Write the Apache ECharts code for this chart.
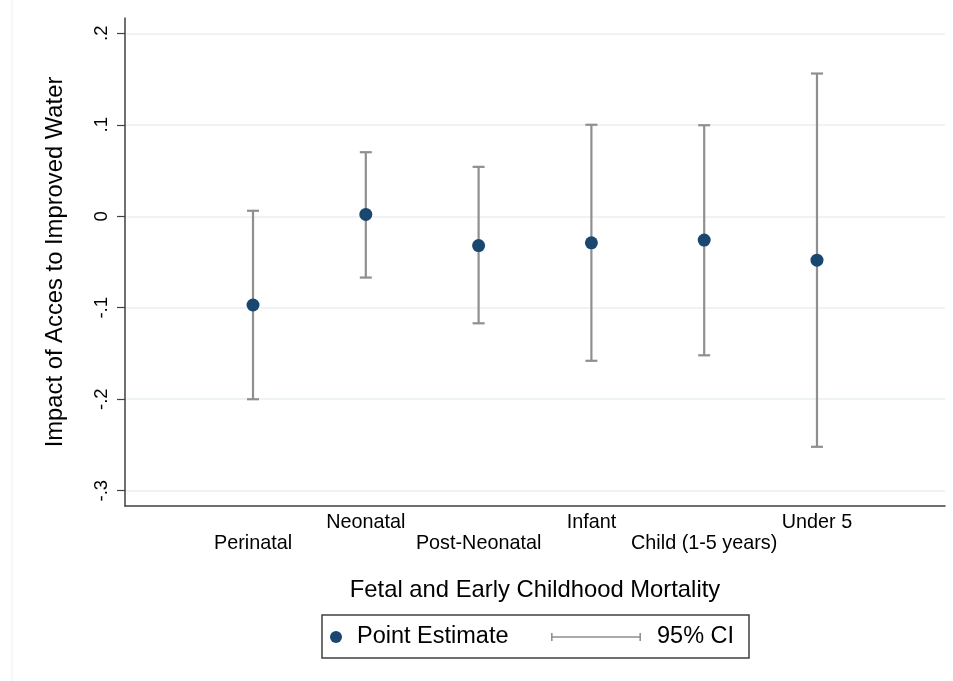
<!DOCTYPE html>
<html>
<head>
<meta charset="utf-8">
<title>Impact of Access to Improved Water on Mortality</title>
<script src="https://cdn.jsdelivr.net/npm/echarts@6/dist/echarts.min.js"></script>
<style>
  html, body { margin: 0; padding: 0; background: #ffffff; }
  #chart { width: 953px; height: 681px; }
</style>
</head>
<body>
<div id="chart"></div>
<script>
// Mortality outcomes (plotted at positions 1..6)
const categories = ['Perinatal', 'Neonatal', 'Post-Neonatal', 'Infant', 'Child (1-5 years)', 'Under 5'];
const positions = [1, 2, 3, 4, 5, 6];

// Point estimates and 95% confidence bounds
const pointEstimate = [-0.097, 0.002, -0.032, -0.029, -0.026, -0.048];
const ciLower = [-0.200, -0.067, -0.117, -0.158, -0.152, -0.252];
const ciUpper = [0.006, 0.070, 0.054, 0.100, 0.0995, 0.156];

// Y axis ticks and their labels
const yTicks = [-0.3, -0.2, -0.1, 0, 0.1, 0.2];
const yTickLabels = ['-.3', '-.2', '-.1', '0', '.1', '.2'];

const FONT = '"Liberation Sans", Arial, sans-serif';
const AXIS_COLOR = '#404040';
const CI_COLOR = '#8f8f8f';
const DOT_COLOR = '#1a476f';

const pointData = positions.map((p, i) => [p, pointEstimate[i]]);
const ciData = positions.map((p, i) => [p, ciLower[i], ciUpper[i]]);

const chart = echarts.init(document.getElementById('chart'), null, { renderer: 'canvas' });

chart.setOption({
  backgroundColor: '#ffffff',
  animation: false,
  textStyle: { fontFamily: FONT },
  grid: { left: 125, right: 8, top: 18, bottom: 175 },
  xAxis: {
    type: 'value',
    min: -0.135,
    max: 7.135,
    name: 'Fetal and Early Childhood Mortality',
    nameLocation: 'middle',
    nameGap: 72,
    nameTextStyle: { fontSize: 23.8, color: '#000', fontFamily: FONT },
    axisLine: { show: true, onZero: false, lineStyle: { color: AXIS_COLOR, width: 1.5 } },
    axisTick: { show: false },
    splitLine: { show: false },
    axisLabel: {
      customValues: positions,
      margin: 7,
      color: '#000',
      fontSize: 19.8,
      fontFamily: FONT,
      formatter: function (v) {
        const i = Math.round(v) - 1;
        const name = categories[i];
        return (i % 2 === 0) ? '{lo|' + name + '}' : '{hi|' + name + '}';
      },
      rich: {
        lo: { fontSize: 19.8, color: '#000', fontFamily: FONT, padding: [21, 0, 0, 0] },
        hi: { fontSize: 19.8, color: '#000', fontFamily: FONT }
      }
    }
  },
  yAxis: {
    type: 'value',
    min: -0.3167,
    max: 0.2167,
    name: 'Impact of Acces to Improved Water',
    nameLocation: 'middle',
    nameGap: 58,
    nameTextStyle: { fontSize: 23.8, color: '#000', fontFamily: FONT },
    axisLine: { show: true, onZero: false, lineStyle: { color: AXIS_COLOR, width: 1.5 } },
    axisTick: { show: true, customValues: yTicks, length: 8, lineStyle: { color: AXIS_COLOR, width: 1.2 } },
    splitLine: { show: true, lineStyle: { color: '#e9f1f3', width: 1.6 } },
    axisLabel: {
      customValues: yTicks,
      rotate: 90,
      margin: 14,
      color: '#000',
      fontSize: 18.5,
      fontFamily: FONT,
      formatter: function (v) {
        const i = yTicks.findIndex(t => Math.abs(t - v) < 1e-9);
        return i >= 0 ? yTickLabels[i] : '';
      }
    }
  },
  legend: [
    {
      left: 330,
      top: 625,
      padding: 0,
      itemWidth: 12,
      itemHeight: 12,
      data: [{ name: 'Point Estimate', icon: 'circle' }],
      textStyle: { fontSize: 23.5, color: '#000', fontFamily: FONT, padding: [4, 0, 0, 10] }
    },
    {
      left: 551,
      top: 625,
      padding: 0,
      itemWidth: 90,
      itemHeight: 8,
      data: [{
        name: '95% CI',
        icon: 'path://M0,0h1.6v8h-1.6z M0,3.2h90v1.6h-90z M88.4,0h1.6v8h-1.6z',
        itemStyle: { color: CI_COLOR }
      }],
      textStyle: { fontSize: 23.5, color: '#000', fontFamily: FONT, padding: [4, 0, 0, 11] }
    }
  ],
  graphic: [
    {
      type: 'rect',
      shape: { x: 322, y: 615, width: 427, height: 43 },
      style: { fill: 'none', stroke: AXIS_COLOR, lineWidth: 1.5 },
      silent: true,
      z: 10
    },
    {
      type: 'line',
      shape: { x1: 12, y1: 0, x2: 12, y2: 681 },
      style: { stroke: '#f0f0f0', lineWidth: 1 },
      silent: true
    }
  ],
  series: [
    {
      name: '95% CI',
      type: 'custom',
      data: ciData,
      encode: { x: 0, y: [1, 2] },
      itemStyle: { color: CI_COLOR },
      z: 2,
      renderItem: function (params, api) {
        const x = api.value(0);
        const top = api.coord([x, api.value(2)]);
        const bot = api.coord([x, api.value(1)]);
        const half = 6;
        const style = { stroke: CI_COLOR, lineWidth: 2.2, fill: null };
        return {
          type: 'group',
          children: [
            { type: 'line', shape: { x1: top[0], y1: top[1], x2: bot[0], y2: bot[1] }, style: style },
            { type: 'line', shape: { x1: top[0] - half, y1: top[1], x2: top[0] + half, y2: top[1] }, style: style },
            { type: 'line', shape: { x1: bot[0] - half, y1: bot[1], x2: bot[0] + half, y2: bot[1] }, style: style }
          ]
        };
      }
    },
    {
      name: 'Point Estimate',
      type: 'scatter',
      data: pointData,
      symbol: 'circle',
      symbolSize: 13,
      itemStyle: { color: DOT_COLOR, opacity: 1 },
      z: 3
    }
  ]
});
</script>
</body>
</html>
